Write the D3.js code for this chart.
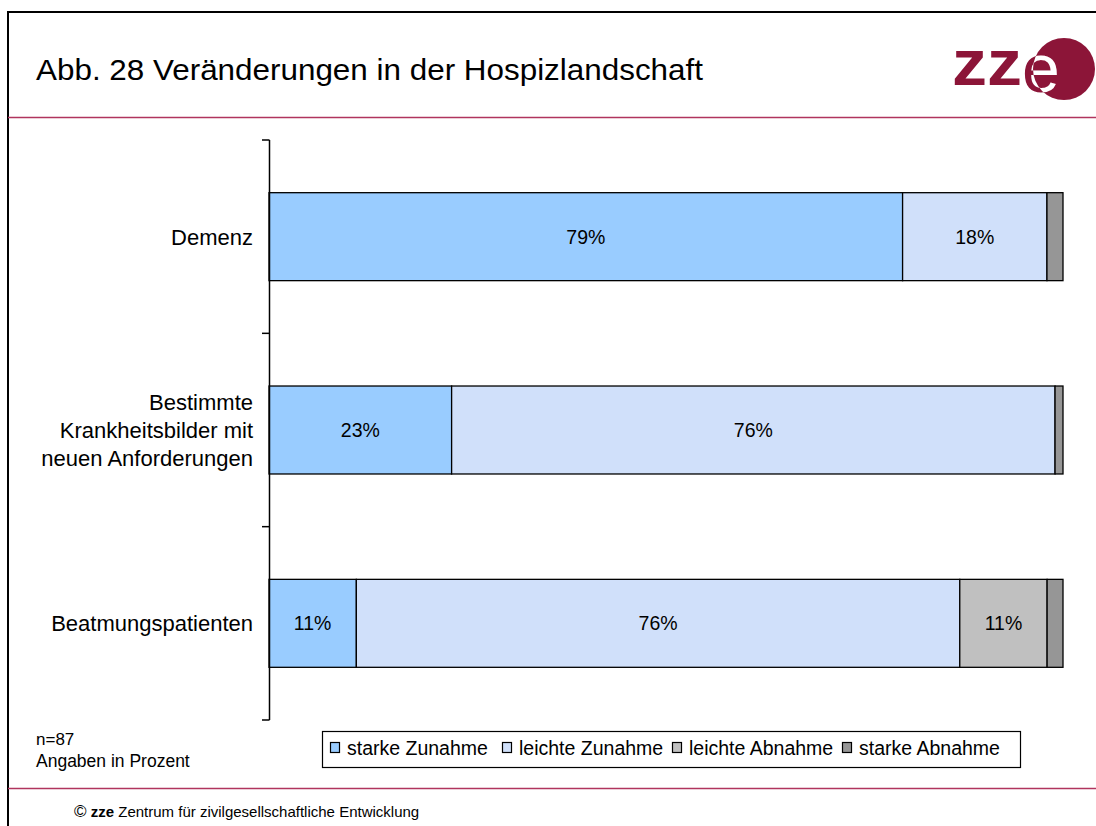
<!DOCTYPE html>
<html>
<head>
<meta charset="utf-8">
<script src="https://cdn.jsdelivr.net/npm/d3@7"></script>
<style>
  body { margin: 0; background: #fff; }
  svg { display: block; font-family: "Liberation Sans", Arial, sans-serif; }
</style>
</head>
<body>
<div id="chart"></div>
<script>
// data
const categories = ["Demenz", "Bestimmte Krankheitsbilder mit neuen Anforderungen", "Beatmungspatienten"];
const categoryLines = [["Demenz"], ["Bestimmte", "Krankheitsbilder mit", "neuen Anforderungen"], ["Beatmungspatienten"]];
const seriesNames = ["starke Zunahme", "leichte Zunahme", "leichte Abnahme", "starke Abnahme"];
const starkeZunahme = [79, 23, 11];
const leichteZunahme = [18, 76, 76];
const leichteAbnahme = [0, 0, 11];
const starkeAbnahme = [2, 1, 2];
const colors = ["#99ccff", "#d0e0fa", "#c0c0c0", "#969696"];

const width = 1096, height = 826;
const margin = { top: 140, right: 32, bottom: 106, left: 269 };

const svg = d3.select("#chart").append("svg")
    .attr("width", width)
    .attr("height", height);

// page frame
svg.append("path")
    .attr("d", "M8,830 L8,12 L1100,12")
    .attr("fill", "none")
    .attr("stroke", "#000")
    .attr("stroke-width", 2);

// header / footer rules
svg.append("line").attr("x1", 8).attr("x2", width).attr("y1", 117.5).attr("y2", 117.5)
    .attr("stroke", "#b0345e").attr("stroke-width", 1.3);
svg.append("line").attr("x1", 8).attr("x2", width).attr("y1", 788.5).attr("y2", 788.5)
    .attr("stroke", "#b0345e").attr("stroke-width", 1.3);

svg.append("text")
    .attr("x", 36).attr("y", 80)
    .attr("font-size", 30)
    .attr("fill", "#000")
    .attr("textLength", 667).attr("lengthAdjust", "spacingAndGlyphs")
    .text("Abb. 28  Veränderungen in der Hospizlandschaft");

// logo
const logo = svg.append("g");
const logoColor = "#8c1538";
logo.append("text")
    .attr("x", 952).attr("y", 85)
    .attr("font-size", 64).attr("font-weight", "bold")
    .attr("fill", logoColor)
    .attr("textLength", 70).attr("lengthAdjust", "spacingAndGlyphs")
    .text("zz");
logo.append("text")
    .attr("x", 1022).attr("y", 92)
    .attr("font-size", 68)
    .attr("fill", logoColor)
    .text("e");
svg.append("clipPath").attr("id", "logoClip")
    .append("circle").attr("cx", 1064).attr("cy", 69).attr("r", 31);
logo.append("circle")
    .attr("cx", 1064).attr("cy", 69).attr("r", 31)
    .attr("fill", logoColor);
logo.append("text")
    .attr("x", 1022).attr("y", 92)
    .attr("font-size", 68)
    .attr("fill", "#fff")
    .attr("clip-path", "url(#logoClip)")
    .text("e");

// chart
const innerW = width - margin.left - margin.right;
const innerH = height - margin.top - margin.bottom;
const g = svg.append("g").attr("transform", `translate(${margin.left},${margin.top})`);

const rows = categories.map((c, i) => ({
    cat: c,
    [seriesNames[0]]: starkeZunahme[i],
    [seriesNames[1]]: leichteZunahme[i],
    [seriesNames[2]]: leichteAbnahme[i],
    [seriesNames[3]]: starkeAbnahme[i]
}));

const stacked = d3.stack().keys(seriesNames).offset(d3.stackOffsetExpand)(rows);

const x = d3.scaleLinear().domain([0, 1]).range([0, innerW - 1]);
const y = d3.scaleBand().domain(categories).range([0, innerH]).paddingInner(0.545).paddingOuter(0.2725);

const layer = g.selectAll(".layer")
    .data(stacked)
    .enter().append("g")
    .attr("class", "layer")
    .attr("fill", (d, i) => colors[i]);

layer.selectAll("rect")
    .data(d => d.filter(p => p[1] - p[0] > 0))
    .enter().append("rect")
    .attr("x", d => x(d[0]))
    .attr("y", d => y(d.data.cat))
    .attr("width", d => x(d[1]) - x(d[0]))
    .attr("height", y.bandwidth())
    .attr("stroke", "#000")
    .attr("stroke-width", 1.3);

layer.selectAll(".lbl")
    .data(function (d) { return d.map(p => ({ p: p, key: d.key })).filter(o => o.p.data[o.key] >= 5); })
    .enter().append("text")
    .attr("class", "lbl")
    .attr("x", o => (x(o.p[0]) + x(o.p[1])) / 2)
    .attr("y", o => y(o.p.data.cat) + y.bandwidth() / 2 + 7)
    .attr("text-anchor", "middle")
    .attr("font-size", 19.5)
    .attr("fill", "#000")
    .text(o => o.p.data[o.key] + "%");

// category axis with ticks between bands
const axis = g.append("g");
axis.append("line").attr("x1", 0.5).attr("x2", 0.5).attr("y1", 0).attr("y2", innerH)
    .attr("stroke", "#000").attr("stroke-width", 1.5);
const ticks = [0].concat(categories.map(c => y(c) + y.bandwidth() + y.step() * y.paddingInner() / 2));
ticks[ticks.length - 1] = innerH;
axis.selectAll(".tick")
    .data(ticks)
    .enter().append("line")
    .attr("x1", -7).attr("x2", 0.5)
    .attr("y1", d => d).attr("y2", d => d)
    .attr("stroke", "#000").attr("stroke-width", 1.5);

categories.forEach((c, i) => {
    const lines = categoryLines[i];
    const cy = y(c) + y.bandwidth() / 2;
    const lh = 28;
    const t = g.append("text")
        .attr("text-anchor", "end")
        .attr("font-size", 22)
        .attr("fill", "#000");
    lines.forEach((ln, j) => {
        t.append("tspan")
            .attr("x", -16)
            .attr("y", cy + 8 + (j - (lines.length - 1) / 2) * lh)
            .text(ln);
    });
});

// legend
const legend = svg.append("g").attr("transform", "translate(322,731)");
legend.append("rect")
    .attr("x", 0.5).attr("y", 0.5).attr("width", 698).attr("height", 36)
    .attr("fill", "#fff").attr("stroke", "#000").attr("stroke-width", 1.2);
const legendX = [8, 180, 350, 520];
seriesNames.forEach((s, i) => {
    const lg = legend.append("g").attr("transform", `translate(${legendX[i]},0)`);
    lg.append("rect")
        .attr("x", 0.5).attr("y", 11.5).attr("width", 9).attr("height", 10)
        .attr("fill", colors[i]).attr("stroke", "#000").attr("stroke-width", 1.2);
    lg.append("text")
        .attr("x", 17).attr("y", 24)
        .attr("font-size", 19.5)
        .attr("fill", "#000")
        .text(s);
});

// notes
svg.append("text").attr("x", 36).attr("y", 745).attr("font-size", 17).text("n=87");
svg.append("text").attr("x", 36).attr("y", 767).attr("font-size", 17.5).text("Angaben in Prozent");

const foot = svg.append("text").attr("x", 74).attr("y", 817).attr("font-size", 15);
foot.append("tspan").attr("font-size", 17).text("©");
foot.append("tspan").attr("font-weight", "bold").text(" zze");
foot.append("tspan").text(" Zentrum für zivilgesellschaftliche Entwicklung");
</script>
</body>
</html>
